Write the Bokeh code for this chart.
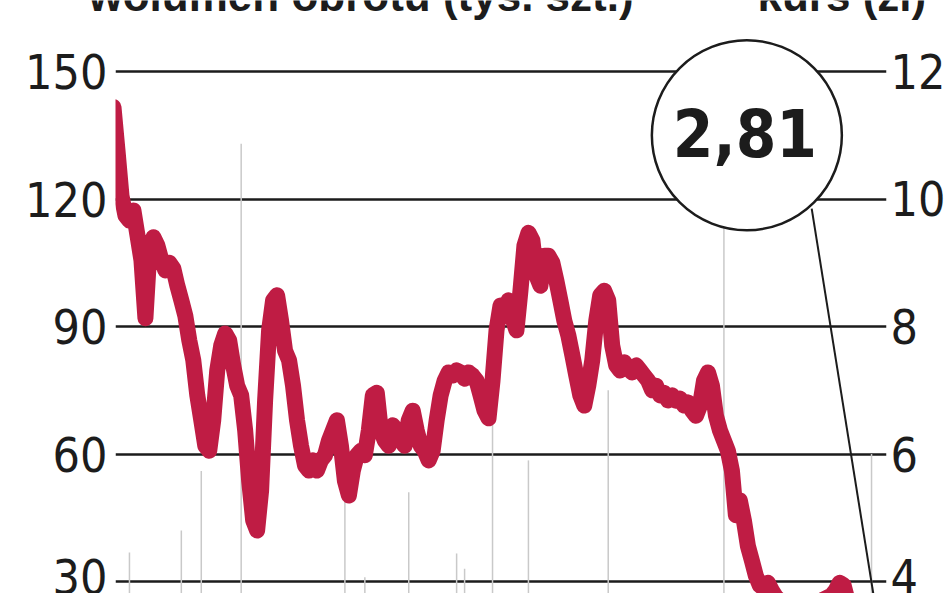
from bokeh.plotting import figure
from bokeh.layouts import column
from bokeh.models import Range1d, LinearAxis, FixedTicker
from bokeh.embed import file_html
from bokeh.resources import INLINE
from bokeh.core.properties import value

# ---- data ----
kurs = [
    11.44, 10.76, 10.05, 9.74, 9.66, 9.82, 9.43, 9.04, 8.13, 9.19,
    9.40, 9.27, 9.04, 8.88, 9.00, 8.91, 8.64, 8.41, 8.17, 7.78,
    7.47, 6.92, 6.53, 6.13, 6.05, 6.53, 7.31, 7.70, 7.89, 7.78,
    7.39, 7.07, 6.92, 6.37, 5.58, 4.96, 4.80, 5.43, 6.84, 7.94,
    8.41, 8.49, 8.09, 7.62, 7.47, 7.07, 6.53, 6.13, 5.82, 5.74,
    5.90, 5.74, 5.90, 5.98, 6.21, 6.37, 6.53, 6.13, 5.58, 5.35,
    5.74, 5.98, 6.05, 5.98, 6.37, 6.92, 6.96, 6.37, 6.21, 6.13,
    6.45, 6.37, 6.21, 6.13, 6.53, 6.68, 6.37, 6.13, 6.05, 5.90,
    6.05, 6.53, 6.92, 7.15, 7.28, 7.23, 7.31, 7.28, 7.18, 7.28,
    7.23, 7.15, 6.92, 6.68, 6.56, 7.15, 7.94, 8.33, 8.25, 8.41,
    8.13, 7.94, 8.56, 9.27, 9.47, 9.35, 8.80, 8.64, 9.11, 9.11,
    9.00, 8.72, 8.41, 8.09, 7.86, 7.55, 7.23, 6.92, 6.76, 7.07,
    7.47, 8.09, 8.49, 8.56, 8.41, 7.70, 7.39, 7.31, 7.44, 7.34,
    7.28, 7.39, 7.31, 7.23, 7.15, 7.00, 7.07, 6.92, 6.96, 6.84,
    6.92, 6.84, 6.87, 6.76, 6.81, 6.68, 6.60, 6.76, 7.15, 7.28,
    7.07, 6.60, 6.37, 6.21, 6.05, 5.74, 5.04, 5.27, 4.96, 4.56,
    4.33, 4.09, 3.94, 3.89, 3.98, 3.86, 3.76, 3.70, 3.66, 3.62,
    3.65, 3.60, 3.63, 3.58, 3.61, 3.64, 3.62, 3.68, 3.72, 3.75,
    3.78, 3.86, 3.98, 3.94, 3.70, 3.55, 3.40, 3.30, 3.15, 3.05,
    2.95, 2.90, 2.85, 2.81,
]
days = list(range(len(kurs)))

# sessions with volume tall enough to be visible (tys. szt.)
vol_day = [4, 17, 22, 32, 58, 63, 74, 86, 88, 95, 104, 124, 153, 190]
vol_value = [36.8, 42, 56, 133, 50, 31, 51, 36.6, 33, 67, 58.5, 75, 118, 60]

left_ticks = [30, 60, 90, 120, 150]
right_ticks = [4, 6, 8, 10, 12]

legend_texts = ["wolumen obrotu (tys. szt.)", "kurs (zł)"]

RED = "#BF1C44"
INK = "#1c1c1c"
BAR = "#c9c9c9"
COND = "DejaVu Sans Condensed"

# ---- legend strip (cut off at the top, as in the source) ----
leg = figure(width=948, height=24, output_backend="svg", toolbar_location=None,
             x_range=Range1d(0, 948), y_range=Range1d(24, 0),
             min_border=0, x_axis_location=None, y_axis_location=None)
leg.frame_align = False
leg.outline_line_color = None
leg.grid.visible = False
leg.text(x=[88, 757], y=[-5.5, -5.5], text=legend_texts,
         text_font=value("Liberation Sans"), text_font_size="44px",
         text_font_style="bold", text_color=INK, text_baseline="middle")

# ---- main chart ----
p = figure(width=948, height=569, output_backend="svg", toolbar_location=None,
           x_range=Range1d(0.5, 193.75), y_range=Range1d(27.18, 161.06),
           min_border_left=115, min_border_right=60, min_border_top=0,
           min_border_bottom=0, x_axis_location=None)
p.frame_align = False
p.extra_y_ranges = {"kurs": Range1d(3.812, 12.737)}
p.outline_line_color = None
p.background_fill_color = "white"
p.border_fill_color = "white"

p.xgrid.visible = False
p.ygrid.ticker = FixedTicker(ticks=left_ticks)
p.ygrid.grid_line_color = INK
p.ygrid.grid_line_width = 2.5


def style_axis(ax, standoff):
    ax.axis_line_color = None
    ax.major_tick_line_color = None
    ax.minor_tick_line_color = None
    ax.major_tick_out = 0
    ax.major_tick_in = 0
    ax.minor_tick_out = 0
    ax.minor_tick_in = 0
    ax.major_label_standoff = standoff
    ax.major_label_text_font = COND
    ax.major_label_text_font_size = "48px"
    ax.major_label_text_color = INK


p.yaxis.ticker = FixedTicker(ticks=left_ticks)
style_axis(p.yaxis[0], 8)

rax = LinearAxis(y_range_name="kurs", ticker=FixedTicker(ticks=right_ticks))
style_axis(rax, 4)
p.add_layout(rax, "right")

# volume bars
p.segment(x0=vol_day, y0=[0] * len(vol_day), x1=vol_day, y1=vol_value,
          line_color=BAR, line_width=1.5)

# price line
p.line(x=days, y=kurs, y_range_name="kurs", line_color=RED, line_width=16,
       line_join="round", line_cap="round")

# pointer to last value
p.segment(x0=[175], y0=[9.85], x1=[days[-1]], y1=[kurs[-1]], y_range_name="kurs",
          line_color=INK, line_width=2)

# circle badge
p.scatter(x=[158.75], y=[11.0], y_range_name="kurs", marker="circle", size=190,
          fill_color="white", line_color=INK, line_width=2.5)
p.text(x=[158.25], y=[11.05], text=[f"{kurs[-1]:.2f}".replace(".", ",")],
       y_range_name="kurs", text_font=value(COND),
       text_font_size="65px", text_font_style="bold", text_align="center",
       text_baseline="middle", text_color=INK)

layout = column(leg, p, spacing=0)
open("out.html", "w").write(file_html(layout, INLINE))
